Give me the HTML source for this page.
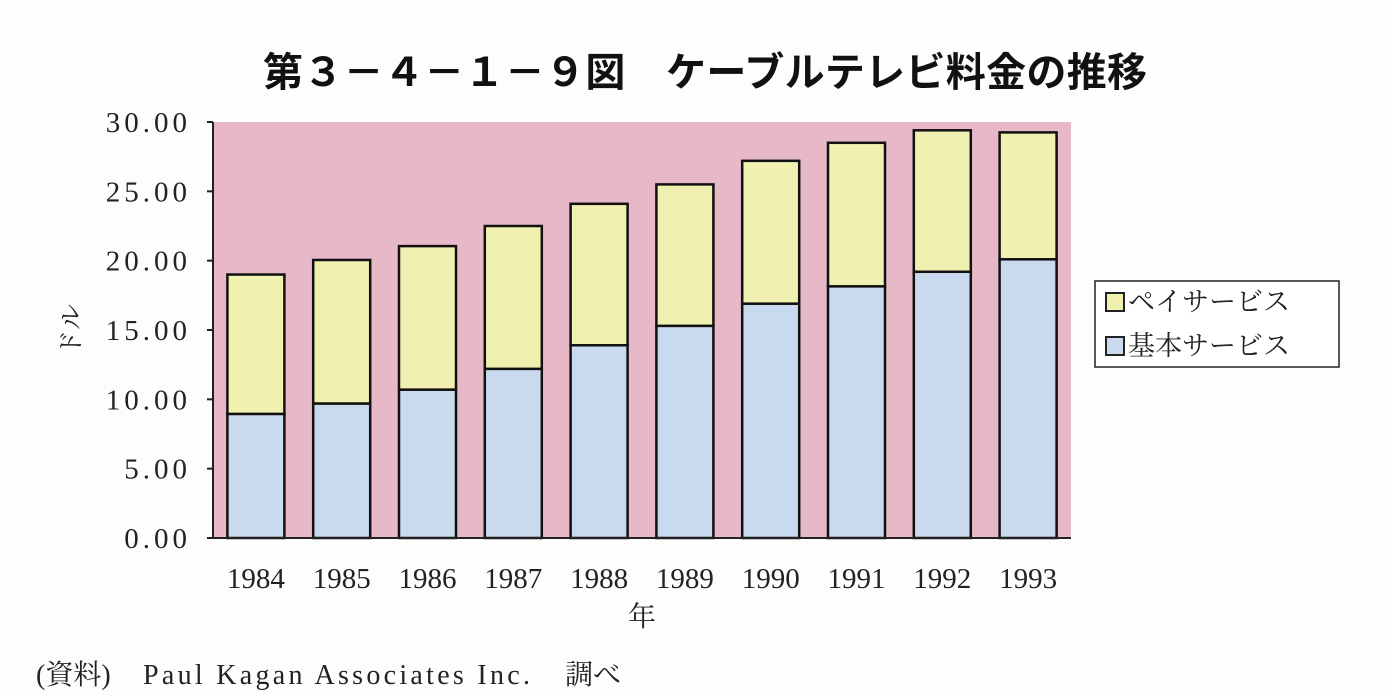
<!DOCTYPE html>
<html><head><meta charset="utf-8">
<style>
body{margin:0;width:1392px;height:696px;background:#fdfdfd;overflow:hidden;font-family:"Liberation Serif","Noto Serif CJK SC",serif;}
svg{position:absolute;left:0;top:0}
</style></head><body>
<svg width="1392" height="696" xmlns="http://www.w3.org/2000/svg">
<text x="263" y="86" textLength="884" lengthAdjust="spacing" font-size="40" font-weight="bold" font-family="Liberation Sans,Noto Sans CJK JP,sans-serif" fill="#111">第３－４－１－９図　ケーブルテレビ料金の推移</text>
<rect x="213" y="122" width="858" height="416" fill="#e7b8c8"/>
<g id="bars"></g>
<line x1="213" y1="122" x2="213" y2="538" stroke="#222" stroke-width="2"/>
<line x1="213" y1="538" x2="1071" y2="538" stroke="#222" stroke-width="2"/>
<g id="yticks"></g><g id="xticks"></g>
<text x="80" y="330" font-size="26" fill="#222" transform="rotate(-90 80 330)" text-anchor="middle" font-family="Liberation Serif,Noto Serif CJK JP,serif">ドル</text>
<text x="642" y="626" font-size="28" fill="#222" text-anchor="middle" font-family="Liberation Serif,Noto Serif CJK JP,serif">年</text>
<g>
<rect x="1095" y="281" width="244" height="86" fill="#fff" stroke="#222" stroke-width="1.5"/>
<g><rect x="1106" y="293" width="18" height="18" fill="#f0f0b0" stroke="#222" stroke-width="2"/><text x="1128" y="311" font-size="27" fill="#222" font-family="Liberation Serif,Noto Serif CJK JP,serif">ペイサービス</text></g>
<g><rect x="1106" y="337" width="18" height="18" fill="#c9d9ee" stroke="#222" stroke-width="2"/><text x="1128" y="355" font-size="27" fill="#222" font-family="Liberation Serif,Noto Serif CJK JP,serif">基本サービス</text></g>
</g>
<text y="684" font-size="28" fill="#222" font-family="Liberation Serif,Noto Serif CJK JP,serif"><tspan x="36">(資料)</tspan><tspan x="143" textLength="387" lengthAdjust="spacing">Paul Kagan Associates Inc.</tspan><tspan x="565">調べ</tspan></text>
</svg>
<script>
const years=["1984","1985","1986","1987","1988","1989","1990","1991","1992","1993"];
const basic=[8.95,9.7,10.7,12.2,13.9,15.3,16.9,18.15,19.2,20.1];
const pay=[10.05,10.35,10.35,10.3,10.2,10.2,10.3,10.35,10.2,9.15];
const yTicks=[0,5,10,15,20,25,30];
const NS="http://www.w3.org/2000/svg";
const X0=213,X1=1071,Y0=538,Y1=122,YMAX=30;
const y=v=>Y0-(v/YMAX)*(Y0-Y1);
const band=(X1-X0)/years.length;
const xc=i=>X0+band*(i+0.5);
function mk(t,a,p){const e=document.createElementNS(NS,t);for(const k in a)e.setAttribute(k,a[k]);p.appendChild(e);return e;}
const gb=document.getElementById('bars'),gy=document.getElementById('yticks'),gx=document.getElementById('xticks');
const bw=57;
years.forEach((yr,i)=>{
 const b=mk('rect',{x:xc(i)-bw/2,y:y(basic[i]),width:bw,height:y(0)-y(basic[i]),fill:'#c9d9ee',stroke:'#111','stroke-width':2.5},gb);
 
 
 const p=mk('rect',{x:xc(i)-bw/2,y:y(basic[i]+pay[i]),width:bw,height:y(basic[i])-y(basic[i]+pay[i]),fill:'#f0f0b0',stroke:'#111','stroke-width':2.5},gb);
 
 
 const t=mk('text',{x:xc(i),y:588,'text-anchor':'middle','font-size':29,fill:'#222'},gx);
 t.textContent=yr;
 
 
});
yTicks.forEach(v=>{
 const l=mk('line',{x1:X0-6,x2:X0,y1:y(v),y2:y(v),stroke:'#222','stroke-width':2},gy);
 
 
 const t=mk('text',{x:X0-22,y:y(v)+10,'text-anchor':'end','font-size':29,'letter-spacing':'4',fill:'#222'},gy);
 t.textContent=v.toFixed(2);
 
 
});
</script>
</body></html>
